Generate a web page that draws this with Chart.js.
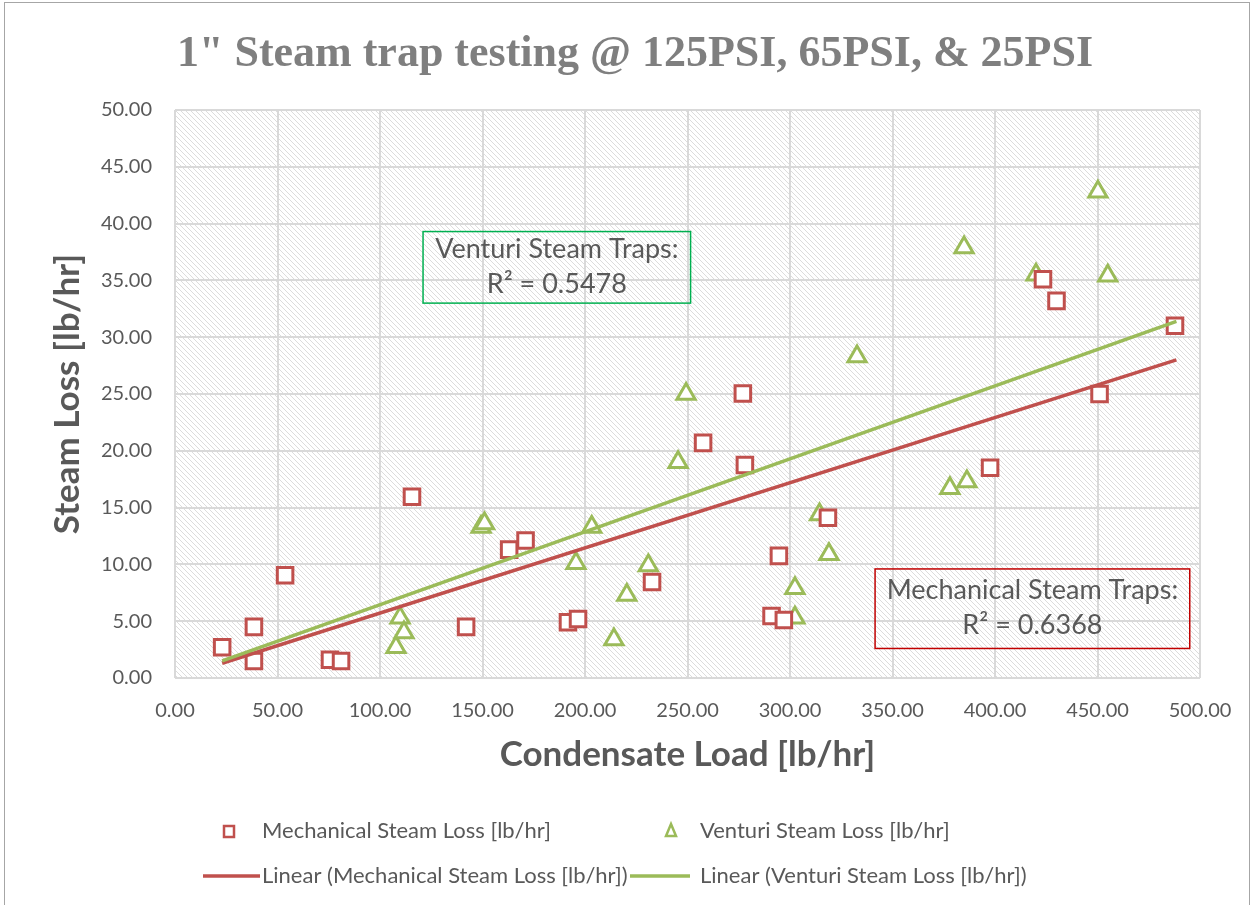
<!DOCTYPE html>
<html>
<head>
<meta charset="utf-8">
<script src="https://cdn.jsdelivr.net/npm/chart.js@4"></script>
<style>
  html, body { margin: 0; padding: 0; background: #fff; }
  #wrap { width: 1254px; height: 905px; }
</style>
</head>
<body>
<div id="wrap"><canvas id="chart" width="1254" height="905"></canvas></div>
<script>
const chartTitle = '1" Steam trap testing @ 125PSI, 65PSI, & 25PSI';

// mechanical traps: condensate load vs steam loss [lb/hr]
const mechLoad = [23, 38.5, 38.5, 53.7, 75.6, 81, 115.6, 142, 163, 171, 191.7, 196.6, 232.7,
  257.6, 277, 278, 294.6, 291, 297, 318.5, 397.6, 423.4, 430, 451, 487.8];
const mechLoss = [2.7, 4.5, 1.5, 9.05, 1.6, 1.5, 15.95, 4.5, 11.3, 12.1, 4.9, 5.2, 8.45,
  20.7, 25.05, 18.75, 10.75, 5.45, 5.1, 14.1, 18.5, 35.1, 33.2, 25.0, 31.0];

// venturi traps
const ventLoad = [107.8, 109.8, 111.7, 149.3, 151, 195.6, 203.3, 214.1, 220.4, 230.9, 245.4, 249.3,
  302.4, 302.4, 314.4, 319, 332.7, 378, 386.3, 384.9, 420, 450.2, 455];
const ventLoss = [2.7, 5.3, 4.0, 13.3, 13.6, 10.1, 13.3, 3.4, 7.3, 9.9, 19.0, 25.0,
  5.3, 7.9, 14.4, 10.9, 28.3, 16.7, 17.3, 37.9, 35.5, 42.8, 35.4];

// linear trendlines (ends of each line)
const trendLoad = [23, 488.5];
const mechTrend = [1.3, 28.0];
const ventTrend = [1.5, 31.4];

const xTicks = [0, 50, 100, 150, 200, 250, 300, 350, 400, 450, 500];
const yTicks = [0, 5, 10, 15, 20, 25, 30, 35, 40, 45, 50];

const mechR2 = '0.6368';
const ventR2 = '0.5478';

const RED = '#c0504d';
const GREEN = '#9bbb59';
const TEXT = '#595959';

const toPoints = (xs, ys) => xs.map((x, i) => ({ x: x, y: ys[i] }));

// hatched plot background
const PAT = 5;
const patCanvas = document.createElement('canvas');
patCanvas.width = PAT;
patCanvas.height = PAT;
const pctx = patCanvas.getContext('2d');
pctx.fillStyle = '#ffffff';
pctx.fillRect(0, 0, PAT, PAT);
pctx.fillStyle = '#dcdcdc';
for (let i = 0; i < PAT; i++) pctx.fillRect(i, i, 1, 1);

const decorPlugin = {
    id: 'decor',
    beforeDraw(chart) {
        const { ctx, chartArea: a } = chart;
        ctx.save();
        ctx.fillStyle = '#fff';
        ctx.fillRect(0, 0, chart.width, chart.height);
        ctx.fillStyle = ctx.createPattern(patCanvas, 'repeat');
        ctx.fillRect(a.left, a.top, a.right - a.left, a.bottom - a.top);
        ctx.strokeStyle = '#a6a6a6';
        ctx.lineWidth = 1;
        ctx.strokeRect(4.5, 2.5, 1245, 950);
        // title
        ctx.fillStyle = '#7f7f7f';
        ctx.font = 'bold 44px "Liberation Serif"';
        ctx.textAlign = 'center';
        ctx.textBaseline = 'middle';
        ctx.fillText(chartTitle, 635, 55);
        ctx.restore();
    },
    afterDatasetsDraw(chart) {
        const { ctx, scales: { x, y } } = chart;
        const boxes = [
            { x0: 121, x1: 251.5, y0: 39.3, y1: 33.0, color: '#00b050', lines: ['Venturi Steam Traps:', 'R\u00b2 = ' + ventR2] },
            { x0: 341.5, x1: 495, y0: 9.6, y1: 2.6, color: '#c00000', lines: ['Mechanical Steam Traps:', 'R\u00b2 = ' + mechR2] }
        ];
        ctx.save();
        boxes.forEach(b => {
            const l = x.getPixelForValue(b.x0), r = x.getPixelForValue(b.x1);
            const t = y.getPixelForValue(b.y0), bt = y.getPixelForValue(b.y1);
            ctx.strokeStyle = b.color;
            ctx.lineWidth = 1.5;
            ctx.strokeRect(l, t, r - l, bt - t);
            ctx.fillStyle = TEXT;
            ctx.font = '27px Lato';
            ctx.textAlign = 'center';
            ctx.textBaseline = 'middle';
            const cx = (l + r) / 2, cy = (t + bt) / 2;
            ctx.fillText(b.lines[0], cx, cy - 18);
            ctx.fillText(b.lines[1], cx, cy + 17);
        });
        ctx.restore();
    },
    afterDraw(chart) {
        // legend laid out like the original: markers on the first row, trendlines on the second
        const { ctx } = chart;
        const ds = chart.data.datasets;
        ctx.save();
        ctx.textAlign = 'left';
        ctx.textBaseline = 'middle';
        // square
        ctx.strokeStyle = RED;
        ctx.lineWidth = 2.5;
        ctx.fillStyle = '#fff';
        ctx.fillRect(224, 826, 10, 11);
        ctx.strokeRect(224, 826, 10, 11);
        // triangle
        ctx.strokeStyle = GREEN;
        ctx.beginPath();
        ctx.moveTo(671, 824);
        ctx.lineTo(676, 836);
        ctx.lineTo(666, 836);
        ctx.closePath();
        ctx.stroke();
        // lines
        ctx.lineWidth = 3.5;
        ctx.strokeStyle = RED;
        ctx.beginPath(); ctx.moveTo(203, 876); ctx.lineTo(260, 876); ctx.stroke();
        ctx.strokeStyle = GREEN;
        ctx.beginPath(); ctx.moveTo(630, 876); ctx.lineTo(690, 876); ctx.stroke();
        ctx.font = '22px Lato';
        ctx.fillStyle = TEXT;
        ctx.fillText(ds[0].label, 262, 831);
        ctx.fillText(ds[1].label, 700, 831);
        ctx.fillText(ds[2].label, 262, 876);
        ctx.fillText(ds[3].label, 700, 876);
        ctx.restore();
    }
};

const chart = new Chart(document.getElementById('chart'), {
    type: 'scatter',
    data: {
        datasets: [
            {
                label: 'Mechanical Steam Loss [lb/hr]',
                data: toPoints(mechLoad, mechLoss),
                pointStyle: 'rect',
                pointRadius: 11,
                pointBorderWidth: 3,
                borderColor: RED,
                backgroundColor: '#fff',
                order: 2
            },
            {
                label: 'Venturi Steam Loss [lb/hr]',
                data: toPoints(ventLoad, ventLoss),
                pointStyle: 'triangle',
                pointRadius: 10.5,
                pointBorderWidth: 3,
                borderColor: GREEN,
                backgroundColor: '#fff',
                order: 3
            },
            {
                label: 'Linear (Mechanical Steam Loss [lb/hr])',
                type: 'line',
                data: toPoints(trendLoad, mechTrend),
                borderColor: RED,
                borderWidth: 3.5,
                pointRadius: 0,
                order: 1
            },
            {
                label: 'Linear (Venturi Steam Loss [lb/hr])',
                type: 'line',
                data: toPoints(trendLoad, ventTrend),
                borderColor: GREEN,
                borderWidth: 3.5,
                pointRadius: 0,
                order: 0
            }
        ]
    },
    options: {
        responsive: false,
        animation: false,
        layout: { padding: { left: 0, right: 54, top: 110, bottom: 117 } },
        plugins: {
            legend: { display: false },
            tooltip: { enabled: false }
        },
        scales: {
            x: {
                type: 'linear',
                min: 0,
                max: 500,
                afterBuildTicks: s => { s.ticks = xTicks.map(v => ({ value: v })); },
                afterFit: s => { s.height = 110; },
                ticks: {
                    callback: v => v.toFixed(2),
                    font: { family: 'Lato', size: 20 },
                    color: TEXT,
                    padding: 21,
                    maxRotation: 0
                },
                grid: { color: '#d9d9d9', lineWidth: 2, drawTicks: false },
                border: { display: false },
                title: {
                    display: true,
                    text: 'Condensate Load [lb/hr]',
                    font: { family: 'Lato', size: 35, weight: 'bold' },
                    color: TEXT,
                    padding: { bottom: 12 }
                }
            },
            y: {
                min: 0,
                max: 50,
                afterBuildTicks: s => { s.ticks = yTicks.map(v => ({ value: v })); },
                afterFit: s => { s.width = 175; },
                ticks: {
                    callback: v => v.toFixed(2),
                    font: { family: 'Lato', size: 20 },
                    color: TEXT,
                    padding: 23
                },
                grid: { color: '#d9d9d9', lineWidth: 2, drawTicks: false },
                border: { display: false },
                title: {
                    display: true,
                    text: 'Steam Loss [lb/hr]',
                    font: { family: 'Lato', size: 35, weight: 'bold' },
                    color: TEXT,
                    padding: { top: 47 }
                }
            }
        }
    },
    plugins: [decorPlugin]
});
</script>
</body>
</html>
